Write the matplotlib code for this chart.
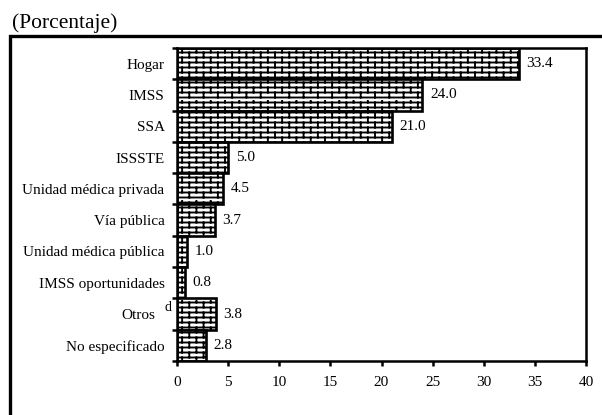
import numpy as np
import matplotlib
matplotlib.use("Agg")
import matplotlib.pyplot as plt
import matplotlib.hatch as mhatch
import matplotlib.transforms as mtrans
from matplotlib.path import Path
from matplotlib.lines import Line2D
from matplotlib.ticker import FixedLocator

categories = ["Hogar", "IMSS", "SSA", "ISSSTE", "Unidad médica privada",
              "Vía pública", "Unidad médica pública", "IMSS oportunidades",
              "Otros", "No especificado"]
values = [33.4, 24.0, 21.0, 5.0, 4.5, 3.7, 1.0, 0.8, 3.8, 2.8]
superscripts = {"Otros": "d"}
xticks = [0, 5, 10, 15, 20, 25, 30, 35, 40]
title = "(Porcentaje)"


class BrickHatch(mhatch.HatchPatternBase):
    NX = 7
    NY = 20

    def __init__(self, hatch, density):
        n = hatch.count('+')
        self.num_vertices = (self.NY * 2 + self.NX * self.NY * 2) if n else 0

    def set_vertices_and_codes(self, vertices, codes):
        k = 0
        for j in range(self.NY):
            y0 = (j + 0.5) / self.NY
            y1 = (j + 1.5) / self.NY
            vertices[k] = (0.0, y0); codes[k] = Path.MOVETO; k += 1
            vertices[k] = (1.0, y0); codes[k] = Path.LINETO; k += 1
            off = 0.25 / self.NX if j % 2 == 0 else 0.75 / self.NX
            for i in range(self.NX):
                x = off + i / self.NX
                vertices[k] = (x, y0); codes[k] = Path.MOVETO; k += 1
                vertices[k] = (x, min(y1, 1.0)); codes[k] = Path.LINETO; k += 1


mhatch._hatch_types = [BrickHatch]

plt.rcParams['font.family'] = ['Liberation Serif', 'DejaVu Serif']
plt.rcParams['hatch.linewidth'] = 1.35
plt.rcParams['hatch.color'] = 'black'

fig = plt.figure(figsize=(6.02, 4.15), dpi=100)
ax = fig.add_axes([177 / 602, 1 - 361 / 415, (586 - 177) / 602, (361 - 48) / 415])

y = np.arange(len(categories))
bars = ax.barh(y, values, height=1.0, color='white', edgecolor='black',
               linewidth=1.9, hatch='+')

for yi, v in zip(y, values):
    ax.annotate(f"{v:.1f}", (v, yi), xytext=(5.5, 0), textcoords='offset points',
                ha='left', va='center', fontsize=11)

ax.set_ylim(len(categories) - 0.5, -0.5)
ax.set_xlim(0, 40)
ax.set_yticks(y)
ax.set_yticklabels(categories, fontsize=11)
ax.yaxis.set_minor_locator(FixedLocator(np.arange(len(categories) + 1) - 0.5))
ax.tick_params(axis='y', which='major', length=0, pad=9)
ax.tick_params(axis='y', which='minor', length=3.5, width=1.8, direction='out')
ax.set_xticks(xticks)
ax.set_xticklabels([str(t) for t in xticks], fontsize=11)
ax.tick_params(axis='x', which='major', length=3.5, width=1.8, direction='out', pad=7)
for s in ax.spines.values():
    s.set_linewidth(1.8)

# superscript notes on category labels
for lab, yi in zip(ax.get_yticklabels(), y):
    c = categories[yi]
    if c in superscripts:
        lab.set_transform(lab.get_transform() +
                          mtrans.ScaledTranslation(-9 / 100, 0, fig.dpi_scale_trans))
        ax.annotate(superscripts[c], xy=(0, yi), xycoords=('axes fraction', 'data'),
                    xytext=(-4.3, 5), textcoords='offset points',
                    ha='right', va='center', fontsize=10)

# outer frame
fig.add_artist(Line2D([9.5 / 602, 9.5 / 602, 1.0], [0.0, 1 - 36 / 415, 1 - 36 / 415],
                      transform=fig.transFigure, color='black', linewidth=2.4,
                      solid_joinstyle='miter'))
fig.text(12 / 602, 1 - 23 / 415, title, fontsize=15.5, ha='left', va='center')

fig.savefig("out.png", dpi=100)
